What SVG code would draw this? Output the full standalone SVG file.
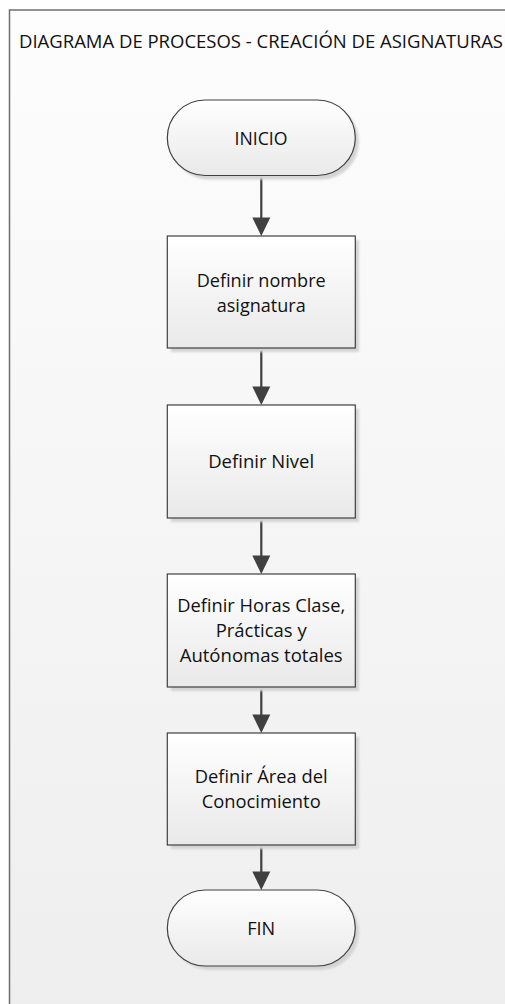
<svg xmlns="http://www.w3.org/2000/svg" width="505" height="1004" viewBox="0 0 505 1004">
  <defs>
    <linearGradient id="pageFill" x1="0" y1="0" x2="0" y2="1">
      <stop offset="0" stop-color="#fdfdfd"/>
      <stop offset="1" stop-color="#eeeeee"/>
    </linearGradient>
    <linearGradient id="shapeFill" x1="0" y1="0" x2="0" y2="1">
      <stop offset="0" stop-color="#ffffff"/>
      <stop offset="1" stop-color="#e9e9e9"/>
    </linearGradient>
    <filter id="shadow" x="-10%" y="-10%" width="130%" height="130%">
      <feGaussianBlur stdDeviation="1.2"/>
    </filter>
  </defs>
  <style>
    .shape { fill: url(#shapeFill); stroke: #404040; stroke-width: 1.2; }
    .shade { fill: #d4d4d4; filter: url(#shadow); }
    .label { font-family: "Open Sans", "Liberation Sans", sans-serif; font-size: 18.5px; fill: #111111; text-anchor: middle; }
    .title { font-family: "Open Sans", "Liberation Sans", sans-serif; font-size: 18.5px; fill: #111111; }
    .link { stroke: #404040; stroke-width: 2.2; fill: none; }
    .head { fill: #404040; }
  </style>

  <!-- page frame -->
  <rect x="0" y="0" width="505" height="1004" fill="#ffffff"/>
  <rect x="9.5" y="10" width="510" height="1010" fill="url(#pageFill)" stroke="#6e6e6e" stroke-width="1.5"/>
  <text class="title" x="19" y="48" textLength="484" lengthAdjust="spacingAndGlyphs">DIAGRAMA DE PROCESOS - CREACIÓN DE ASIGNATURAS</text>

  <!-- connectors -->
  <g id="connectors">
    <line class="link" x1="261.3" y1="175.5" x2="261.3" y2="220"/>
    <path class="head" d="M252.3,217.5 L270.3,217.5 L261.3,236 Z"/>
    <line class="link" x1="261.3" y1="348" x2="261.3" y2="389"/>
    <path class="head" d="M252.3,386.5 L270.3,386.5 L261.3,405 Z"/>
    <line class="link" x1="261.3" y1="518" x2="261.3" y2="558"/>
    <path class="head" d="M252.3,555.5 L270.3,555.5 L261.3,574 Z"/>
    <line class="link" x1="261.3" y1="687" x2="261.3" y2="717"/>
    <path class="head" d="M252.3,714.5 L270.3,714.5 L261.3,733 Z"/>
    <line class="link" x1="261.3" y1="845" x2="261.3" y2="874"/>
    <path class="head" d="M252.3,871.5 L270.3,871.5 L261.3,890 Z"/>
  </g>

  <!-- start terminator -->
  <g id="inicio">
    <rect class="shade" x="171" y="104" width="188" height="75.5" rx="37.75"/>
    <rect class="shape" x="167.3" y="100" width="188" height="75.5" rx="37.75"/>
    <text class="label" x="261" y="145" textLength="53" lengthAdjust="spacingAndGlyphs">INICIO</text>
  </g>

  <!-- step 1 -->
  <g id="nombre">
    <rect class="shade" x="171" y="240" width="188" height="112"/>
    <rect class="shape" x="167.3" y="236" width="188" height="112"/>
    <text class="label" x="261.2" y="286.7" textLength="129" lengthAdjust="spacingAndGlyphs">Definir nombre</text>
    <text class="label" x="261.2" y="311.5" textLength="89" lengthAdjust="spacingAndGlyphs">asignatura</text>
  </g>

  <!-- step 2 -->
  <g id="nivel">
    <rect class="shade" x="171" y="409" width="188" height="113"/>
    <rect class="shape" x="167.3" y="405" width="188" height="113"/>
    <text class="label" x="261.2" y="468" textLength="106" lengthAdjust="spacingAndGlyphs">Definir Nivel</text>
  </g>

  <!-- step 3 -->
  <g id="horas">
    <rect class="shade" x="171" y="578" width="188" height="113"/>
    <rect class="shape" x="167.3" y="574" width="188" height="113"/>
    <text class="label" x="261.2" y="612" textLength="168" lengthAdjust="spacingAndGlyphs">Definir Horas Clase,</text>
    <text class="label" x="261.2" y="637" textLength="91" lengthAdjust="spacingAndGlyphs">Prácticas y</text>
    <text class="label" x="261.2" y="661.7" textLength="163" lengthAdjust="spacingAndGlyphs">Autónomas totales</text>
  </g>

  <!-- step 4 -->
  <g id="area">
    <rect class="shade" x="171" y="737" width="188" height="112"/>
    <rect class="shape" x="167.3" y="733" width="188" height="112"/>
    <text class="label" x="261.2" y="783" textLength="133" lengthAdjust="spacingAndGlyphs">Definir Área del</text>
    <text class="label" x="261.2" y="808" textLength="119" lengthAdjust="spacingAndGlyphs">Conocimiento</text>
  </g>

  <!-- end terminator -->
  <g id="fin">
    <rect class="shade" x="171" y="894" width="188" height="76" rx="38"/>
    <rect class="shape" x="167.3" y="890" width="188" height="76" rx="38"/>
    <text class="label" x="261.2" y="935" textLength="28" lengthAdjust="spacingAndGlyphs">FIN</text>
  </g>
</svg>
